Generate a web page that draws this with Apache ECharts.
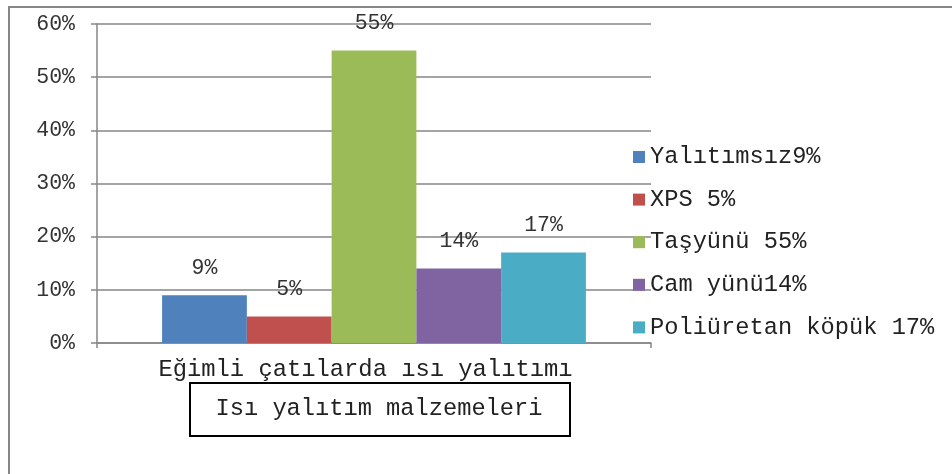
<!DOCTYPE html>
<html>
<head>
    <meta charset="UTF-8">
    <title>Isı yalıtım malzemeleri</title>
    <script src="https://cdn.jsdelivr.net/npm/echarts@6/dist/echarts.min.js"></script>
    <style>
        html, body { margin: 0; padding: 0; background: #fff; }
        #chart { width: 952px; height: 474px; }
    </style>
</head>
<body>
<div id="chart"></div>
<script>
    // veriler
    var categories = ['Eğimli çatılarda ısı yalıtımı'];
    var seriesNames = ['Yalıtımsız9%', 'XPS 5%', 'Taşyünü 55%', 'Cam yünü14%', 'Poliüretan köpük 17%'];
    var seriesValues = [[9], [5], [55], [14], [17]];
    var colors = ['#4F81BD', '#C0504D', '#9BBB59', '#8064A2', '#4BACC6'];
    var yTicks = [0, 10, 20, 30, 40, 50, 60];

    var font = '"Liberation Mono", "DejaVu Sans Mono", monospace';
    var myChart = echarts.init(document.getElementById('chart'));

    var series = seriesNames.map(function (name, i) {
        return {
            name: name,
            type: 'bar',
            data: seriesValues[i],
            barGap: '0%',
            barCategoryGap: '23.5%',
            itemStyle: { color: colors[i] },
            label: {
                show: true,
                position: 'top',
                distance: 16,
                formatter: '{c}%',
                fontFamily: font,
                fontSize: 21.5,
                color: '#333'
            }
        };
    });

    var option = {
        animation: false,
        color: colors,
        grid: { left: 97, right: 301, top: 24, bottom: 131, containLabel: false },
        legend: {
            orient: 'vertical',
            left: 633,
            top: 145,
            padding: 0,
            itemWidth: 12,
            itemHeight: 12,
            itemGap: 18.6,
            icon: 'rect',
            textStyle: { fontFamily: font, fontSize: 23.7, color: '#222', lineHeight: 24 },
            data: seriesNames
        },
        xAxis: {
            type: 'category',
            data: categories,
            axisLine: { lineStyle: { color: '#868686', width: 1.5 } },
            axisTick: { show: true, length: 5, lineStyle: { color: '#868686', width: 1.5 } },
            axisLabel: { fontFamily: font, fontSize: 23.8, color: '#222', margin: 15, padding: [0, 17, 0, 0] }
        },
        yAxis: {
            type: 'value',
            min: yTicks[0],
            max: yTicks[yTicks.length - 1],
            interval: 10,
            axisLine: { show: true, lineStyle: { color: '#868686', width: 1.5 } },
            axisTick: { show: true, length: 6, lineStyle: { color: '#868686', width: 1.5 } },
            splitLine: { lineStyle: { color: '#868686', width: 1.5 } },
            axisLabel: { fontFamily: font, fontSize: 21.5, color: '#333', margin: 22, formatter: '{value}%' }
        },
        graphic: [
            {
                type: 'rect',
                shape: { x: 9, y: 7, width: 1000, height: 500 },
                style: { fill: 'none', stroke: '#868686', lineWidth: 2 },
                silent: true
            },
            {
                type: 'rect',
                shape: { x: 190, y: 383, width: 380, height: 53 },
                style: { fill: '#fff', stroke: '#000', lineWidth: 2 },
                silent: true
            },
            {
                type: 'text',
                x: 379,
                y: 409,
                style: {
                    text: 'Isı yalıtım malzemeleri',
                    font: '23.7px ' + font,
                    fill: '#222',
                    align: 'center',
                    verticalAlign: 'middle'
                },
                silent: true
            }
        ],
        series: series
    };
    myChart.setOption(option);
</script>
</body>
</html>
